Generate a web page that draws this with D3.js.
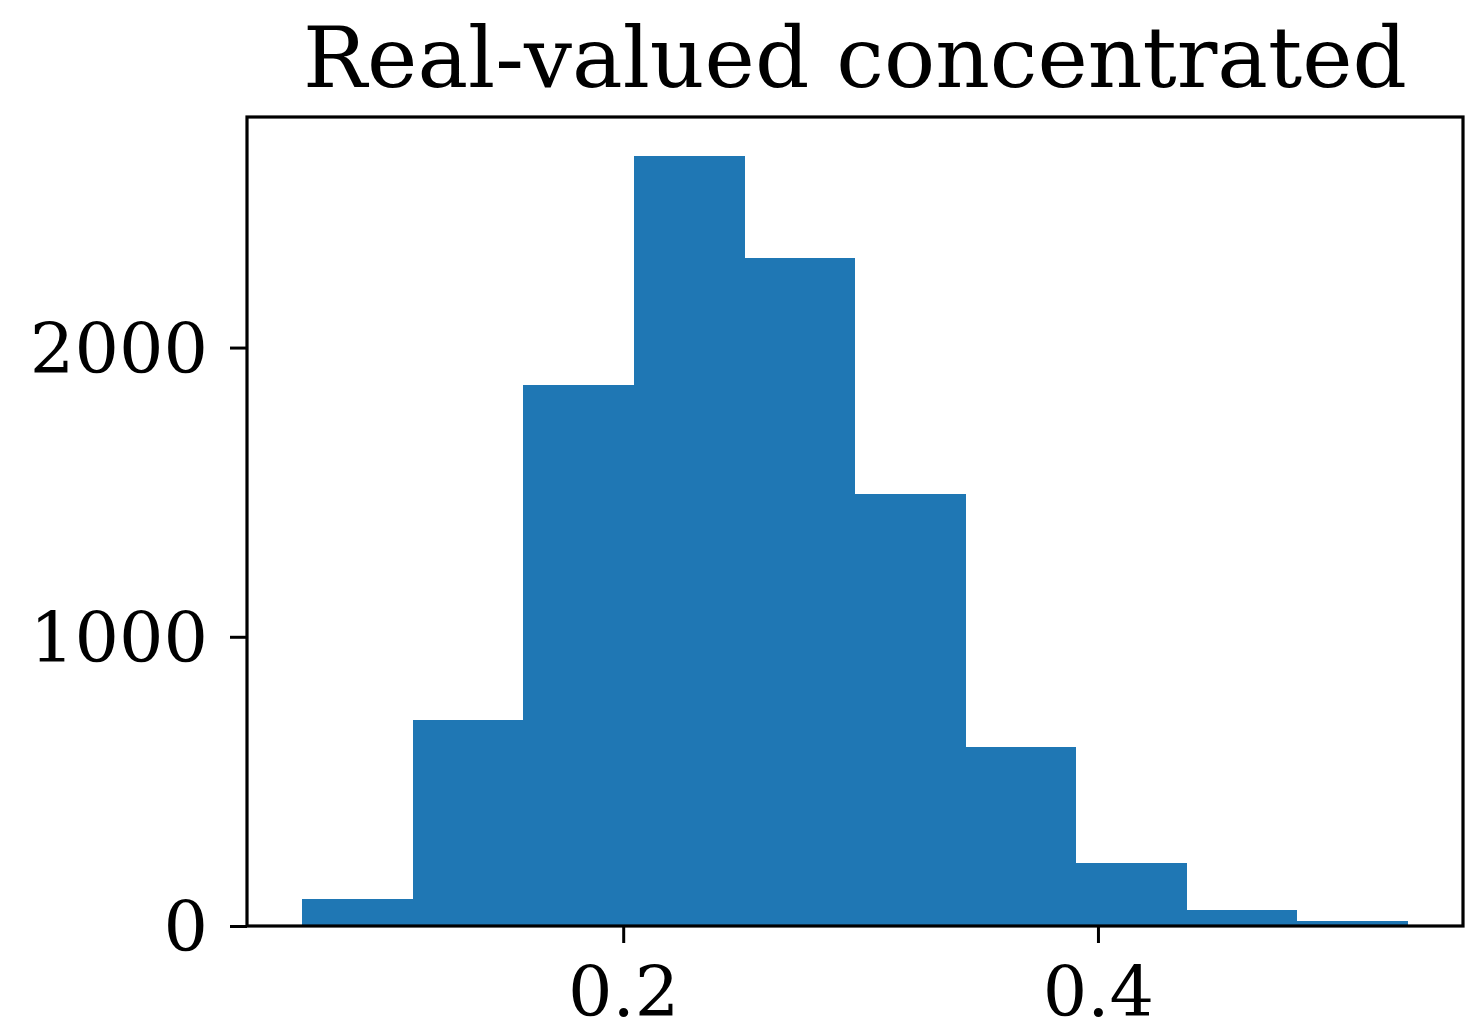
<!DOCTYPE html>
<html>
<head>
<meta charset="utf-8">
<script src="https://cdn.jsdelivr.net/npm/d3@7"></script>
<style>
  body { margin: 0; background: #fff; }
  svg { display: block; }
  text { font-family: "DejaVu Serif", serif; fill: #000; }
</style>
</head>
<body>
<div id="chart"></div>
<script>
// histogram bins (edges) and counts
var binEdges = [0.0648, 0.1116, 0.1579, 0.2046, 0.2514, 0.2977, 0.3444, 0.3907, 0.4375, 0.4838, 0.5305];
var counts = [93, 713, 1869, 2664, 2308, 1495, 619, 218, 55, 17];
var xTicks = [0.2, 0.4];
var yTicks = [0, 1000, 2000];
var title = "Real-valued concentrated";

var W = 1481, H = 1027;
var margin = {top: 117, right: 18, bottom: 101, left: 247};
var iw = W - margin.left - margin.right,
    ih = H - margin.top - margin.bottom;

var svg = d3.select('#chart').append('svg')
  .attr('width', W).attr('height', H);

var g = svg.append('g')
  .attr('transform', 'translate(' + margin.left + ',' + margin.top + ')');

// matplotlib style 5% margin on x, 5% headroom on y
var lo = binEdges[0], hi = binEdges[binEdges.length - 1];
var pad = (hi - lo) * 0.05;
var x = d3.scaleLinear().domain([lo - pad, hi + pad]).range([0, iw]);
var y = d3.scaleLinear().domain([0, d3.max(counts) * 1.05]).range([ih, 0]);

var bins = counts.map(function(c, i){
  return {x0: binEdges[i], x1: binEdges[i + 1], n: c};
});

g.selectAll('rect.bar')
  .data(bins)
  .enter().append('rect')
  .attr('class', 'bar')
  .attr('x', function(d){ return x(d.x0); })
  .attr('width', function(d){ return x(d.x1) - x(d.x0); })
  .attr('y', function(d){ return y(d.n); })
  .attr('height', function(d){ return ih - y(d.n); })
  .attr('fill', '#1f77b4')
  .attr('shape-rendering', 'crispEdges');

// axes
var xAxis = d3.axisBottom(x).tickValues(xTicks).tickSize(17).tickPadding(20)
  .tickFormat(d3.format('.1f'));
var yAxis = d3.axisLeft(y).tickValues(yTicks).tickSize(17).tickPadding(22)
  .tickFormat(d3.format('d'));

var gx = g.append('g').attr('transform', 'translate(0,' + ih + ')').call(xAxis);
var gy = g.append('g').call(yAxis);

[gx, gy].forEach(function(a){
  a.select('.domain').remove();
  a.selectAll('.tick line').attr('stroke', '#000').attr('stroke-width', 3);
  a.selectAll('.tick text').style('font-size', '70px').attr('fill', '#000');
});
gx.selectAll('.tick text').attr('dy', '0.75em');
gy.selectAll('.tick text').attr('dy', '0.35em');

// frame
g.append('rect')
  .attr('width', iw).attr('height', ih)
  .attr('fill', 'none')
  .attr('stroke', '#000')
  .attr('stroke-width', 3.2);

svg.append('text')
  .attr('x', margin.left + iw / 2)
  .attr('y', 87)
  .attr('text-anchor', 'middle')
  .style('font-size', '85px')
  .text(title);
</script>
</body>
</html>
